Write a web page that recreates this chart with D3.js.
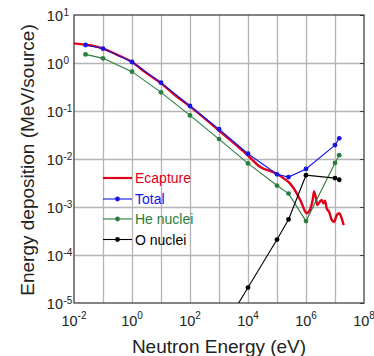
<!DOCTYPE html>
<html>
<head>
<meta charset="utf-8">
<script src="https://cdn.jsdelivr.net/npm/d3@7"></script>
<style>
  body { margin: 0; background: #fff; }
  text { font-family: "Liberation Sans", Arial, sans-serif; }
</style>
</head>
<body>
<div id="container"></div>
<script>
// energies (eV) for the marker series
var energyPts = [0.025, 0.1, 1, 10, 100, 1e3, 1e4, 1e5, 2.5e5, 1e6, 1e7, 1.4e7];
var totalDep = [2.37, 2.0, 1.05, 0.39, 0.127, 0.0417, 0.0129, 0.0048, 0.0042, 0.0062, 0.0195, 0.027];
var heDep = [1.51, 1.25, 0.66, 0.245, 0.081, 0.026, 0.0081, 0.0028, 0.0019, 0.00051, 0.0083, 0.012];

var energyO = [1e3, 1e4, 1e5, 2.5e5, 1e6, 1e7, 1.4e7];
var oDep = [2.1e-6, 2.1e-5, 2.1e-4, 5.5e-4, 0.0046, 0.0040, 0.0037];

// Ecapture curve
var energyCap = [0.01, 0.025, 0.05, 0.1, 0.3, 1, 3, 10, 30, 100, 1e3, 1e4, 2.6e4, 9.3e4, 1.66e5, 2.8e5,
  4.8e5, 7.1e5, 1.05e6, 1.37e6, 1.7e6, 1.9e6, 2.2e6, 2.45e6, 3e6, 3.5e6, 4e6, 4.5e6, 5.2e6, 6.3e6,
  7.7e6, 9.3e6, 1.15e7, 1.4e7, 1.7e7, 2e7];
var capDep = [2.57, 2.4, 2.25, 2.0, 1.5, 1.05, 0.63, 0.38, 0.215, 0.125, 0.039, 0.0118, 0.0069, 0.0050, 0.0040, 0.0031,
  0.00193, 0.0012, 0.00074, 0.00087, 0.00141, 0.0021, 0.00152, 0.0011, 0.00129, 0.00141, 0.0012, 0.00135, 0.00093, 0.00079,
  0.00054, 0.00049, 0.00068, 0.00074, 0.00058, 0.00042];

var xTicks = [1e-2, 1, 1e2, 1e4, 1e6, 1e8];
var xGrid = [1e-1, 1, 1e1, 1e2, 1e3, 1e4, 1e5, 1e6, 1e7];
var yTicks = [1e-5, 1e-4, 1e-3, 1e-2, 1e-1, 1, 1e1];
var seriesNames = ["Ecapture", "Total", "He nuclei", "O nuclei"];
var seriesColors = ["#e0001a", "#1414e6", "#2b7d3c", "#000000"];

var W = 374, H = 356;
var pLeft = 74, pRight = 364, pTop = 15, pBottom = 303;

var svg = d3.select("#container").append("svg")
  .attr("width", W).attr("height", H);

var x = d3.scaleLog().domain([1e-2, 1e8]).range([pLeft, pRight]);
var y = d3.scaleLog().domain([1e-5, 1e1]).range([pBottom, pTop]);

svg.append("clipPath").attr("id", "plotclip")
  .append("rect").attr("x", pLeft).attr("y", pTop)
  .attr("width", pRight - pLeft).attr("height", pBottom - pTop);

// grid
svg.append("g").attr("class", "grid")
  .attr("transform", "translate(0," + pBottom + ")")
  .call(d3.axisBottom(x).tickValues(xGrid).tickSize(-(pBottom - pTop)).tickFormat(""))
  .call(function(g){ g.select(".domain").remove(); })
  .selectAll("line").attr("stroke", "#b4b4b4").attr("stroke-width", 1.3);

svg.append("g").attr("class", "grid")
  .attr("transform", "translate(" + pLeft + ",0)")
  .call(d3.axisLeft(y).tickValues(yTicks.slice(1, -1)).tickSize(-(pRight - pLeft)).tickFormat(""))
  .call(function(g){ g.select(".domain").remove(); })
  .selectAll("line").attr("stroke", "#b4b4b4").attr("stroke-width", 1.3);

// inward tick marks on the right side
svg.append("g")
  .attr("transform", "translate(" + pRight + ",0)")
  .call(d3.axisRight(y).tickValues(yTicks).tickSize(-4).tickFormat(""))
  .call(function(g){ g.select(".domain").remove(); })
  .selectAll("line").attr("stroke", "#444");

// frame
svg.append("rect")
  .attr("x", pLeft).attr("y", pTop)
  .attr("width", pRight - pLeft).attr("height", pBottom - pTop)
  .attr("fill", "none").attr("stroke", "#333").attr("stroke-width", 1.2);

// tick labels
var xl = svg.append("g").attr("fill", "#222");
xTicks.forEach(function(v){
  var e = Math.round(Math.log10(v));
  var t = xl.append("text").attr("x", x(v)).attr("y", pBottom + 22.5)
    .attr("text-anchor", "middle").attr("font-size", 14.5);
  t.append("tspan").text("10");
  t.append("tspan").attr("font-size", 10).attr("dy", -7).text(e);
});

var yl = svg.append("g").attr("fill", "#222");
yTicks.forEach(function(v){
  var e = Math.round(Math.log10(v));
  yl.append("text").attr("x", 63).attr("y", y(v) + 5.5)
    .attr("text-anchor", "end").attr("font-size", 14.5).text("10");
  yl.append("text").attr("x", 63.5).attr("y", y(v) + 0.5)
    .attr("text-anchor", "start").attr("font-size", 10).text(e);
});

// axis titles
svg.append("text")
  .attr("x", (pLeft + pRight) / 2).attr("y", 353)
  .attr("text-anchor", "middle").attr("font-size", 19).attr("fill", "#222")
  .text("Neutron Energy (eV)");

svg.append("text")
  .attr("transform", "translate(33.5," + ((pTop + pBottom) / 2 + 1) + ") rotate(-90)")
  .attr("text-anchor", "middle").attr("font-size", 19).attr("fill", "#222")
  .text("Energy deposition (MeV/source)");

// data
var plot = svg.append("g").attr("clip-path", "url(#plotclip)");

function zip(xs, ys){ return xs.map(function(d, i){ return [d, ys[i]]; }); }

var line = d3.line().x(function(d){ return x(d[0]); }).y(function(d){ return y(d[1]); });
var smooth = d3.line().curve(d3.curveMonotoneX)
  .x(function(d){ return x(d[0]); }).y(function(d){ return y(d[1]); });

plot.append("path")
  .attr("d", smooth(zip(energyCap, capDep)))
  .attr("fill", "none").attr("stroke", seriesColors[0]).attr("stroke-width", 2.4)
  .attr("stroke-linejoin", "round");

function drawSeries(xs, ys, color){
  var pts = zip(xs, ys);
  plot.append("path").attr("d", line(pts))
    .attr("fill", "none").attr("stroke", color).attr("stroke-width", 1.1);
  plot.selectAll(null).data(pts).enter().append("circle")
    .attr("cx", function(d){ return x(d[0]); })
    .attr("cy", function(d){ return y(d[1]); })
    .attr("r", 2.4).attr("fill", color);
}

drawSeries(energyPts, heDep, seriesColors[2]);
drawSeries(energyO, oDep, seriesColors[3]);
drawSeries(energyPts, totalDep, seriesColors[1]);

// legend
var legendY = [178, 199, 219, 239.5];
var lg = svg.append("g");
seriesNames.forEach(function(name, i){
  var yy = legendY[i];
  lg.append("line").attr("x1", 103).attr("x2", 132).attr("y1", yy).attr("y2", yy)
    .attr("stroke", seriesColors[i]).attr("stroke-width", i === 0 ? 2.2 : 1.1);
  if(i > 0){
    lg.append("circle").attr("cx", 117.5).attr("cy", yy).attr("r", 2.4).attr("fill", seriesColors[i]);
  }
  lg.append("text").attr("x", 135).attr("y", yy).attr("dy", "0.36em")
    .attr("font-size", 14).attr("fill", seriesColors[i]).text(name);
});
</script>
</body>
</html>
